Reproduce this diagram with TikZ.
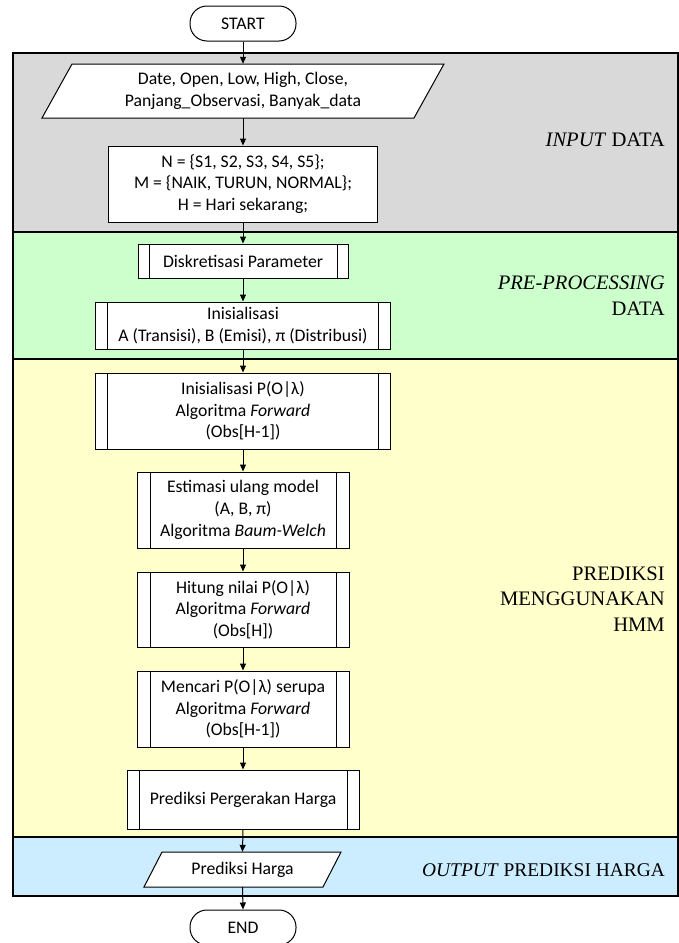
\documentclass[tikz,border=0pt]{standalone}
\usepackage{fontspec}
\setmainfont{Carlito}
\newfontfamily\tnr{Liberation Serif}
\usetikzlibrary{arrows.meta}
\definecolor{bandgray}{HTML}{D9D9D9}
\definecolor{bandgreen}{HTML}{CCFFCC}
\definecolor{bandyellow}{HTML}{FFFFCC}
\definecolor{bandblue}{HTML}{CCECFF}
\begin{document}
\begin{tikzpicture}[x=1pt,y=-1pt,
  txt/.style={font=\fontsize{17.7pt}{21.7pt}\selectfont, align=center, inner sep=0pt},
  box/.style={txt, draw, fill=white, line width=1pt},
  term/.style={box, rounded corners=17pt},
  subproc/.style={box, path picture={
     \draw[line width=1pt] ([xshift=#1]path picture bounding box.north west) -- ([xshift=#1]path picture bounding box.south west)
       ([xshift=-#1]path picture bounding box.north east) -- ([xshift=-#1]path picture bounding box.south east);}},
  lbl/.style={font=\tnr\fontsize{20.6pt}{25.5pt}\selectfont, align=right, anchor=east, inner sep=0pt},
  band/.style={draw, line width=1.2pt},
  shapeline/.style={draw, fill=white, line width=1pt},
  flow/.style={-{Triangle[length=7pt,width=6pt]}, line width=1pt}
]
\useasboundingbox (0,0) rectangle (678,943);
\fill[white] (0,0) rectangle (678,943);
% bands
\draw[band, fill=bandgray]   (13,53)  rectangle (678,232);
\draw[band, fill=bandgreen]  (13,232) rectangle (678,359);
\draw[band, fill=bandyellow] (13,359) rectangle (678,837);
\draw[band, fill=bandblue]   (13,837) rectangle (678,896);

% shapes
\node[term, minimum width=106pt, minimum height=35pt] (start) at (243,23.5) {START};

\draw[shapeline] (42,118) -- (72,64) -- (444,64) -- (414,118) -- cycle;
\node[txt, minimum width=342pt, minimum height=54pt] (inp) at (243,91)
  {Date, Open, Low, High, Close,\\Panjang\_Observasi, Banyak\_data};

\node[box, minimum width=269pt, minimum height=76pt] (nset) at (243,184)
  {N = \{S1, S2, S3, S4, S5\};\\M = \{NAIK, TURUN, NORMAL\};\\H = Hari sekarang;};

\node[subproc=11pt, minimum width=210pt, minimum height=34pt] (disk) at (243,261)
  {Diskretisasi Parameter};

\node[subproc=12pt, minimum width=295pt, minimum height=47pt] (inis) at (243,325.5)
  {Inisialisasi\\A (Transisi), B (Emisi), π (Distribusi)};

\node[subproc=12pt, minimum width=295pt, minimum height=76pt] (inisp) at (243,411)
  {Inisialisasi P(O|λ)\\Algoritma \textit{Forward}\\(Obs[H-1])};

\node[subproc=13pt, minimum width=212pt, minimum height=76pt] (est) at (243,510)
  {Estimasi ulang model\\(A, B, π)\\Algoritma \textit{Baum-Welch}};

\node[subproc=13pt, minimum width=212pt, minimum height=75pt] (hit) at (243,609.5)
  {Hitung nilai P(O|λ)\\Algoritma \textit{Forward}\\(Obs[H])};

\node[subproc=13pt, minimum width=212pt, minimum height=76pt] (menc) at (243,709)
  {Mencari P(O|λ) serupa\\Algoritma \textit{Forward}\\(Obs[H-1])};

\node[subproc=12pt, minimum width=232pt, minimum height=59pt] (pp) at (243,799.5)
  {Prediksi Pergerakan Harga};

\draw[shapeline] (144,887) -- (162,852) -- (341,852) -- (323,887) -- cycle;
\node[txt, minimum width=161pt, minimum height=35pt] (ph) at (242.5,869.5) {Prediksi Harga};

\node[term, minimum width=106pt, minimum height=35pt] (end) at (243,927.5) {END};

% connectors
\draw[flow] (start.south) -- (inp.north);
\draw[flow] (inp.south) -- (nset.north);
\draw[flow] (nset.south) -- (disk.north);
\draw[flow] (disk.south) -- (inis.north);
\draw[flow] (inis.south) -- (inisp.north);
\draw[flow] (inisp.south) -- (est.north);
\draw[flow] (est.south) -- (hit.north);
\draw[flow] (hit.south) -- (menc.north);
\draw[flow] (menc.south) -- (pp.north);
\draw[flow] (pp.south) -- (ph.north);
\draw[flow] (ph.south) -- (end.north);

% lane labels
\node[lbl] (l1) at (665,140) {\textit{INPUT} DATA};
\node[lbl] (l2) at (665,295.5) {\textit{PRE-PROCESSING}\\DATA};
\node[lbl] (l3) at (665,599) {PREDIKSI\\MENGGUNAKAN\\HMM};
\node[lbl, font=\tnr\fontsize{19.4pt}{24pt}\selectfont] (l4) at (665,870) {\textit{OUTPUT} PREDIKSI HARGA};
\end{tikzpicture}
\end{document}
